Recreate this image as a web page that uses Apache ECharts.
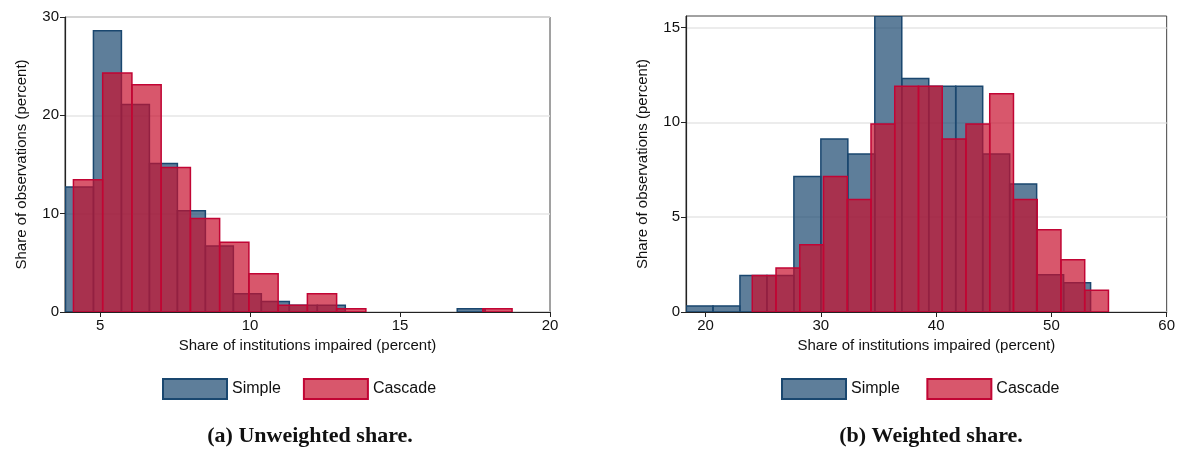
<!DOCTYPE html>
<html>
<head>
<meta charset="utf-8">
<script src="https://cdn.jsdelivr.net/npm/echarts@6/dist/echarts.min.js"></script>
<style>html,body{margin:0;padding:0;background:#fff}#chart{width:1178px;height:454px}</style>
</head>
<body>
<div id="chart"></div>
<script>
// (a) unweighted share: bin start, bin width, heights
var aSimpleStart = 3.845, aSimpleWidth = 0.933;
var aSimple = [12.7, 28.6, 21.1, 15.1, 10.3, 6.7, 1.86, 1.08, 0.68, 0.68, 0, 0, 0, 0, 0.34];
var aCascadeStart = 4.111, aCascadeWidth = 0.975;
var aCascade = [13.46, 24.3, 23.1, 14.7, 9.5, 7.1, 3.9, 0.68, 1.86, 0.34, 0, 0, 0, 0, 0.34];
var aTicksX = [5, 10, 15, 20];
var aTicksY = [0, 10, 20, 30];

// (b) weighted share
var bSimpleStart = 18.3, bSimpleWidth = 2.34;
var bSimple = [0.32, 0.32, 1.93, 1.93, 7.14, 9.12, 8.33, 15.6, 12.3, 11.9, 11.9, 8.33, 6.75, 1.96, 1.54];
var bCascadeStart = 24.05, bCascadeWidth = 2.06;
var bCascade = [1.93, 2.32, 3.54, 7.14, 5.93, 9.91, 11.9, 11.9, 9.12, 9.91, 11.5, 5.93, 4.33, 2.75, 1.14];
var bTicksX = [20, 30, 40, 50, 60];
var bTicksY = [0, 5, 10, 15];

var blue = '#1a476f', red = '#c10534';
var font = 'Liberation Sans';

function toBins(start, width, vals){
	var out = [];
	for(var i=0;i<vals.length;i++){
		if(vals[i] > 0) out.push([start + i*width, start + (i+1)*width, vals[i]]);
	}
	return out;
}

function renderBar(params, api){
	var p0 = api.coord([api.value(0), api.value(2)]);
	var p1 = api.coord([api.value(1), 0]);
	return {
		type:'rect',
		shape:{x:p0[0], y:p0[1], width:p1[0]-p0[0], height:p1[1]-p0[1]},
		style:api.style()
	};
}

function histSeries(name, idx, data, col, fill){
	return {
		name:name, type:'custom', xAxisIndex:idx, yAxisIndex:idx,
		renderItem:renderBar, clip:true,
		encode:{x:[0,1], y:2},
		itemStyle:{color:fill, borderColor:col, borderWidth:1.5},
		data:data
	};
}

function xAxis(idx, min, max, ticks, name){
	return {
		type:'value', gridIndex:idx, min:min, max:max,
		name:name, nameLocation:'middle', nameGap:22,
		nameTextStyle:{fontFamily:font, fontSize:15, color:'#111'},
		axisLine:{lineStyle:{color:'#222', width:1.2}},
		axisTick:{show:true, length:5, customValues:ticks, lineStyle:{color:'#222'}},
		axisLabel:{customValues:ticks, fontFamily:font, fontSize:15, color:'#111', margin:6},
		splitLine:{show:false}
	};
}
function yAxis(idx, max, interval, ticks){
	return {
		type:'value', gridIndex:idx, min:0, max:max, interval:interval,
		name:'Share of observations (percent)', nameLocation:'middle', nameGap:36,
		nameTextStyle:{fontFamily:font, fontSize:15, color:'#111'},
		axisLine:{show:true, lineStyle:{color:'#222', width:1.2}},
		axisTick:{show:true, length:5, customValues:ticks, lineStyle:{color:'#222'}},
		axisLabel:{customValues:ticks, fontFamily:font, fontSize:15, color:'#111', margin:6},
		splitLine:{show:true, lineStyle:{color:'#e6e6e6', width:1.5}}
	};
}

var blueFill = 'rgba(26,71,111,0.7)', redFill = 'rgba(200,16,46,0.7)';

var option = {
	animation:false,
	grid:[
		{left:65, top:17, width:485, height:295, show:true, borderColor:'#444', borderWidth:1},
		{left:686, top:16, width:481, height:296, show:true, borderColor:'#444', borderWidth:1}
	],
	xAxis:[
		xAxis(0, 3.83, 20, aTicksX, 'Share of institutions impaired (percent)'),
		xAxis(1, 18.3, 60, bTicksX, 'Share of institutions impaired (percent)')
	],
	yAxis:[yAxis(0, 30, 10, aTicksY), yAxis(1, 15.6, 5, bTicksY)],
	legend:[
		{left:157, top:373, itemWidth:64, itemHeight:20, itemGap:22, textStyle:{fontFamily:font, fontSize:16, color:'#111'},
		 data:[{name:'Simple', icon:'rect'}, {name:'Cascade', icon:'rect'}]},
		{left:776, top:373, itemWidth:64, itemHeight:20, itemGap:22, textStyle:{fontFamily:font, fontSize:16, color:'#111'},
		 data:[{name:'Simple ', icon:'rect'}, {name:'Cascade ', icon:'rect'}]}
	],
	title:[
		{text:'(a) Unweighted share.', left:305, top:420, textAlign:'center',
		 textStyle:{fontFamily:'Liberation Serif', fontWeight:'bold', fontSize:22, color:'#111'}},
		{text:'(b) Weighted share.', left:926, top:420, textAlign:'center',
		 textStyle:{fontFamily:'Liberation Serif', fontWeight:'bold', fontSize:22, color:'#111'}}
	],
	series:[
		histSeries('Simple', 0, toBins(aSimpleStart, aSimpleWidth, aSimple), blue, blueFill),
		histSeries('Cascade', 0, toBins(aCascadeStart, aCascadeWidth, aCascade), red, redFill),
		histSeries('Simple ', 1, toBins(bSimpleStart, bSimpleWidth, bSimple), blue, blueFill),
		histSeries('Cascade ', 1, toBins(bCascadeStart, bCascadeWidth, bCascade), red, redFill)
	]
};

var myChart = echarts.init(document.getElementById('chart'));
myChart.setOption(option);
</script>
</body>
</html>
